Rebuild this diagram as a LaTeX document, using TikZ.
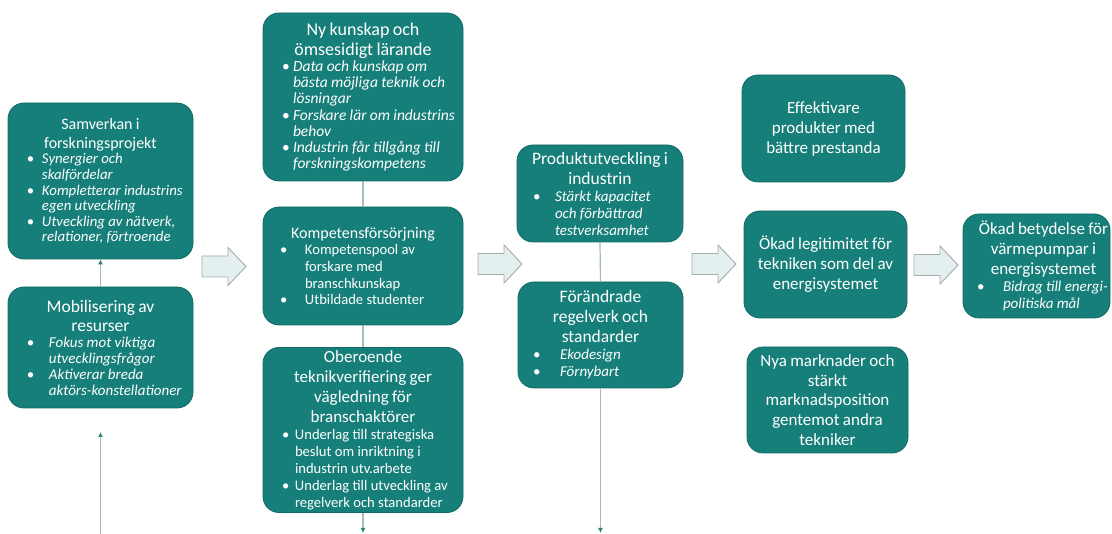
\documentclass[tikz,border=0pt]{standalone}
\usepackage{fontspec}
\setmainfont{Carlito}
\usetikzlibrary{arrows.meta}
\definecolor{boxteal}{HTML}{177F7A}
\definecolor{boxedge}{HTML}{0F6A65}
\definecolor{linecol}{HTML}{A3BDBB}
\definecolor{tipcol}{HTML}{2F817C}
\definecolor{arrfill}{HTML}{E4EFEF}
\definecolor{arredge}{HTML}{A8ABAB}
% title: #1 size, #2 baselineskip, #3 text
\newcommand{\ttl}[3]{{\fontsize{#1}{#2}\selectfont #3\par}}
% bullet: #1 bullet offset, #2 text offset, #3 text (size from \bsz/\bsk)
\newcommand{\bsz}{15}
\newcommand{\bsk}{17}
\newcommand{\bit}[3]{{\fontsize{\bsz}{\bsk}\selectfont\raggedright\leftskip=#2pt\rightskip=0pt plus 1fil\parindent=0pt\noindent\llap{\hbox to \dimexpr #2pt-#1pt\relax{\upshape\textbullet\hfil}}#3\par}}
\tikzset{
  box/.style={draw=boxedge, line width=0.8pt, fill=boxteal, rounded corners=16pt, text=white, align=center, inner sep=0pt},
  conn/.style={draw=linecol, line width=1.2pt},
  tip/.style={-{Latex[length=5pt,width=5pt,color=tipcol]}},
  arrowshape/.style={draw=arredge, fill=arrfill, line width=0.9pt, line join=miter},
  barrow/.pic={\draw[arrowshape] (0,-10.5)--(26,-10.5)--(26,-19)--(44,0)--(26,19)--(26,10.5)--(0,10.5)--cycle;}
}
\begin{document}
\begin{tikzpicture}[x=1pt,y=-1pt]
\useasboundingbox (0,0) rectangle (1112,534);
\fill[white] (0,0) rectangle (1112,534);

% left column
\node[box, minimum width=185pt, minimum height=156pt, text width=185pt] (samv) at (100.5,181)
 {\renewcommand{\bsz}{14.8}\renewcommand{\bsk}{15.6}%
  \ttl{16}{19}{Samverkan i\\forskningsprojekt}%
  \bit{19}{34}{\itshape Synergier och\\skalfördelar}%
  \bit{19}{34}{\itshape Kompletterar industrins\\egen utveckling}%
  \bit{19}{34}{\itshape Utveckling av nätverk,\\relationer, förtroende}};
\node[box, minimum width=185pt, minimum height=121pt, text width=185pt] (mobi) at (100.5,347.5)
 {\renewcommand{\bsz}{15}\renewcommand{\bsk}{16}%
  \ttl{17.5}{19}{Mobilisering av\\resurser}%
  \bit{19}{41}{\itshape Fokus mot viktiga\\utvecklingsfrågor}%
  \bit{19}{41}{\itshape Aktiverar breda\\aktörs-konstellationer}};

% middle column
\node[box, minimum width=200pt, minimum height=168pt, text width=200pt] (nyk) at (363,97)
 {\renewcommand{\bsz}{15.5}\renewcommand{\bsk}{16.2}%
  \ttl{18}{20}{Ny kunskap och\\ömsesidigt lärande}%
  \bit{19}{30}{\itshape Data och kunskap om\\bästa möjliga teknik och\\lösningar}%
  \bit{19}{30}{\itshape Forskare lär om industrins\\behov}%
  \bit{19}{30}{\itshape Industrin får tillgång till\\forskningskompetens}};
\node[box, minimum width=200pt, minimum height=118pt, text width=200pt] (komp) at (363,266)
 {\renewcommand{\bsz}{14.6}\renewcommand{\bsk}{16.7}%
  \ttl{16}{20}{Kompetensförsörjning}%
  \bit{17}{42}{Kompetenspool av\\forskare med\\branschkunskap}%
  \bit{17}{42}{Utbildade studenter}};
\node[box, minimum width=200pt, minimum height=165pt, text width=200pt] (ober) at (363,430)
 {\renewcommand{\bsz}{14.6}\renewcommand{\bsk}{17}%
  \ttl{17}{20}{Oberoende\\teknikverifiering ger\\vägledning för\\branschaktörer}%
  \bit{19}{32}{Underlag till strategiska\\beslut om inriktning i\\industrin utv.arbete}%
  \bit{19}{32}{Underlag till utveckling av\\regelverk och standarder}};

% third column
\node[box, minimum width=166pt, minimum height=97pt, text width=166pt] (prod) at (600,193.5)
 {\renewcommand{\bsz}{15}\renewcommand{\bsk}{17}%
  \ttl{17.5}{20}{Produktutveckling i\\industrin}%
  \bit{16}{38}{\itshape Stärkt kapacitet\\och förbättrad\\testverksamhet}};
\node[box, minimum width=165pt, minimum height=106pt, text width=165pt] (foer) at (600.5,335)
 {\renewcommand{\bsz}{15}\renewcommand{\bsk}{17}%
  \ttl{17.5}{20}{Förändrade\\regelverk och\\standarder}%
  \bit{15}{42}{\itshape Ekodesign}%
  \bit{15}{42}{\itshape Förnybart}};

% fourth column
\node[box, minimum width=163pt, minimum height=107pt, text width=163pt] (effe) at (823.5,128.5)
 {\ttl{17}{20}{Effektivare\\produkter med\\bättre prestanda}};
\node[box, minimum width=163pt, minimum height=107pt, text width=163pt] (legi) at (825.5,264.5)
 {\ttl{17}{20}{Ökad legitimitet för\\tekniken som del av\\energisystemet}};
\node[box, minimum width=161pt, minimum height=106pt, text width=161pt] (nya) at (827.5,400)
 {\ttl{17}{19.7}{Nya marknader och\\stärkt\\marknadsposition\\gentemot andra\\tekniker}};

% right column
\node[box, minimum width=147pt, minimum height=104pt, text width=147pt] (okad) at (1036.5,266)
 {\renewcommand{\bsz}{15}\renewcommand{\bsk}{17}%
  \ttl{17}{20}{\hspace*{14pt}Ökad betydelse för\\\hspace*{14pt}värmepumpar i\\\hspace*{14pt}energisystemet}%
  \bit{14}{40}{\itshape Bidrag till energi-\\politiska mål}};

% connectors
\draw[conn, tip] (mobi.north) -- (samv.south);
\coordinate (in1) at (100.5,534);
\coordinate (in1tip) at (100.5,432);
\draw[conn, tip] (in1) -- (in1tip);
\draw[conn] (nyk.south) -- (komp.north);
\draw[conn] (komp.south) -- (ober.north);
\coordinate (out1) at (363,533);
\draw[conn, tip] (ober.south) -- (out1);
\draw[conn] (prod.south) -- (foer.north);
\coordinate (out2) at (600.5,533);
\draw[conn, tip] (foer.south) -- (out2);

% block arrows
\pic at (202,266.5) {barrow};
\pic at (478,264) {barrow};
\pic at (692,264) {barrow};
\pic at (914,265) {barrow};
\end{tikzpicture}
\end{document}
